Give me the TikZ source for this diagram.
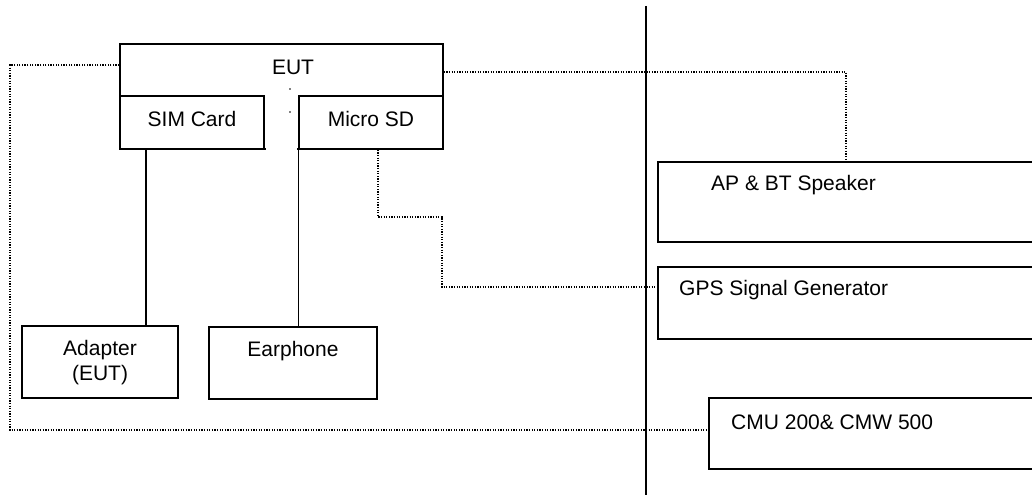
\documentclass[tikz,border=0pt]{standalone}
\usepackage{fontspec}
\setmainfont{Liberation Sans}
\begin{document}
\begin{tikzpicture}[x=1pt,y=-1pt,
 box/.style={draw,line width=1.5pt,inner sep=0pt,rectangle},
 lbl/.style={font=\fontsize{21}{25}\selectfont,inner sep=0pt,align=center},
 solidline/.style={line width=1.5pt},
 dotline/.style={line width=1.3pt,dash pattern=on 1.3pt off 1.3pt}]
\useasboundingbox (0,0) rectangle (1032,495);
\clip (0,0) rectangle (1032,495);
% boxes
\node[box,minimum width=323pt,minimum height=105pt] (eut) at (281.5,96.5) {};
\node[box,minimum width=144pt,minimum height=53pt] (sim) at (192,122.5) {};
\node[box,minimum width=144pt,minimum height=53pt] (msd) at (371,122.5) {};
\node[box,minimum width=156pt,minimum height=72pt] (adapter) at (100,362) {};
\node[box,minimum width=168pt,minimum height=72pt] (ear) at (293,363) {};
\node[box,minimum width=392pt,minimum height=80pt] (ap) at (854,202) {};
\node[box,minimum width=392pt,minimum height=72pt] (gps) at (854,303) {};
\node[box,minimum width=341pt,minimum height=71pt] (cmu) at (879.5,433.5) {};
% cover the middle part of EUT divider (gap between SIM and Micro SD)
\fill[white] ([xshift=0.8pt]sim.north east) rectangle ([xshift=-0.8pt,yshift=-1pt]msd.south west);
% labels
\node[lbl] (teut) at (293,67) {EUT};
\node[lbl] (tsim) at (192,119) {SIM Card};
\node[lbl] (tmsd) at (371,119) {Micro SD};
\node[lbl] (tad) at (100,362.5) {Adapter\\(EUT)};
\node[lbl] (tear) at (293,351) {Earphone};
\node[lbl,anchor=west] (tap) at (711,185) {AP \& BT Speaker};
\node[lbl,anchor=west] (tgps) at (679,290) {GPS Signal Generator};
\node[lbl,anchor=west] (tcmu) at (731,422) {CMU 200\& CMW 500};
% small dots
\fill (290,89) circle (0.9pt);
\fill (290,112) circle (0.9pt);
% divider
\coordinate (dtop) at (646,6);
\coordinate (dbot) at (646,495);
\draw[solidline] (dtop) -- (dbot);
% solid connectors
\coordinate (ax) at (146,0);
\draw[solidline] (sim.south -| ax) -- (adapter.north -| ax);
\draw[solidline] (msd.south west) -- (ear.north -| msd.south west);
% dotted connectors
\coordinate (m1) at (378,217);
\coordinate (m2) at (442,287);
\draw[dotline] (msd.south -| m1) -- (m1) -- (m1 -| m2) -- (m2) -- (gps.west |- m2);
\coordinate (r1) at (846,72);
\draw[dotline] (eut.east |- r1) -- (r1) -- (ap.north -| r1);
\coordinate (l1) at (10,65);
\coordinate (l2) at (10,430);
\draw[dotline] (eut.west |- l1) -- (l1) -- (l2) -- (cmu.west |- l2);
\end{tikzpicture}
\end{document}
